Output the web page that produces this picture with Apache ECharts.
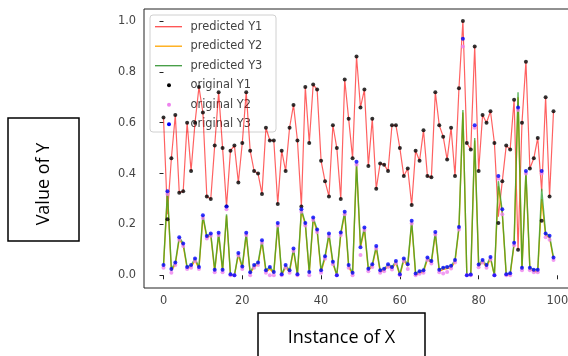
<!DOCTYPE html>
<html><head><meta charset="utf-8">
<script src="https://cdn.jsdelivr.net/npm/echarts@6/dist/echarts.min.js"></script>
<style>html,body{margin:0;padding:0;background:#fff}#c{width:568px;height:356px}</style>
</head><body><div id="c"></div>
<script>
// ---- data (index on x = instance 0..99) ----
const origY1 = [0.62,0.22,0.46,0.63,0.325,0.33,0.60,0.41,0.60,0.74,
  0.64,0.31,0.30,0.51,0.72,0.50,0.27,0.49,0.51,0.365,
  0.52,0.72,0.49,0.41,0.40,0.32,0.58,0.53,0.53,0.28,
  0.49,0.41,0.58,0.67,0.53,0.27,0.74,0.52,0.75,0.73,
  0.45,0.37,0.31,0.59,0.50,0.30,0.77,0.615,0.46,0.86,
  0.66,0.73,0.43,0.615,0.34,0.44,0.435,0.41,0.59,0.59,
  0.50,0.39,0.42,0.276,0.49,0.45,0.57,0.39,0.385,0.72,
  0.59,0.545,0.455,0.58,0.39,0.735,1.0,0.52,0.495,0.90,
  0.41,0.63,0.60,0.645,0.52,0.206,0.37,0.51,0.495,0.69,
  0.10,0.60,0.84,0.42,0.46,0.54,0.214,0.70,0.31,0.645];
const predY1 = [0.62,0.24,0.46,0.63,0.325,0.33,0.60,0.41,0.60,0.74,
  0.64,0.31,0.30,0.51,0.72,0.50,0.27,0.49,0.51,0.365,
  0.52,0.72,0.49,0.41,0.40,0.32,0.58,0.53,0.53,0.28,
  0.49,0.41,0.58,0.67,0.53,0.27,0.74,0.52,0.75,0.73,
  0.45,0.37,0.31,0.59,0.50,0.30,0.77,0.615,0.46,0.86,
  0.66,0.73,0.43,0.615,0.34,0.44,0.435,0.41,0.59,0.59,
  0.50,0.39,0.42,0.276,0.49,0.45,0.57,0.39,0.385,0.72,
  0.59,0.545,0.455,0.58,0.39,0.735,1.0,0.52,0.495,0.90,
  0.41,0.63,0.60,0.645,0.52,0.23,0.37,0.51,0.495,0.69,
  0.10,0.60,0.84,0.42,0.46,0.54,0.33,0.70,0.31,0.645];
const origY3 = [0.04,0.33,0.025,0.05,0.15,0.125,0.033,0.04,0.066,0.033,
  0.236,0.154,0.164,0.022,0.167,0.022,0.27,0.004,0.0,0.088,
  0.035,0.167,0.012,0.04,0.05,0.138,0.02,0.033,0.013,0.206,
  0.004,0.04,0.02,0.105,0.004,0.26,0.206,0.013,0.227,0.18,
  0.02,0.075,0.164,0.053,0.0,0.168,0.25,0.04,0.01,0.446,
  0.11,0.188,0.026,0.043,0.115,0.02,0.026,0.043,0.033,0.056,
  0.004,0.066,0.043,0.214,0.007,0.016,0.02,0.07,0.056,0.17,
  0.022,0.03,0.033,0.037,0.06,0.19,0.93,0.0,0.003,0.59,
  0.042,0.06,0.04,0.072,0.0,0.39,0.26,0.004,0.008,0.128,
  0.66,0.03,0.41,0.03,0.022,0.022,0.41,0.164,0.155,0.07];
const predY3 = [0.04,0.33,0.025,0.05,0.15,0.125,0.033,0.04,0.066,0.033,
  0.236,0.154,0.164,0.022,0.167,0.022,0.24,0.004,0.0,0.088,
  0.035,0.167,0.012,0.04,0.05,0.138,0.02,0.033,0.013,0.206,
  0.004,0.04,0.02,0.105,0.004,0.26,0.206,0.013,0.227,0.18,
  0.02,0.075,0.164,0.053,0.0,0.168,0.25,0.04,0.01,0.44,
  0.118,0.188,0.026,0.043,0.115,0.02,0.026,0.043,0.033,0.056,
  0.004,0.066,0.043,0.214,0.007,0.016,0.02,0.07,0.056,0.17,
  0.022,0.03,0.033,0.037,0.06,0.19,0.65,0.0,0.003,0.54,
  0.042,0.06,0.04,0.072,0.0,0.37,0.25,0.004,0.008,0.128,
  0.72,0.03,0.41,0.03,0.022,0.022,0.34,0.164,0.155,0.07];
const origY2 = [0.03,0.32,0.01,0.04,0.14,0.115,0.025,0.03,0.055,0.025,
  0.225,0.145,0.155,0.012,0.158,0.012,0.26,0.0,0.0,0.078,
  0.025,0.158,0.0,0.03,0.04,0.128,0.01,0.0,0.0,0.196,
  0.0,0.03,0.01,0.095,0.0,0.25,0.196,0.0,0.217,0.17,
  0.01,0.065,0.154,0.043,0.0,0.158,0.24,0.03,0.0,0.436,
  0.08,0.178,0.016,0.033,0.105,0.01,0.016,0.033,0.023,0.046,
  0.0,0.056,0.025,0.204,0.0,0.006,0.01,0.06,0.046,0.16,
  0.012,0.007,0.013,0.027,0.05,0.18,0.90,0.0,0.0,0.58,
  0.032,0.05,0.03,0.062,0.0,0.38,0.24,0.0,0.0,0.118,
  0.65,0.02,0.40,0.02,0.012,0.012,0.40,0.15,0.14,0.06];
const predY2 = [0.035,0.32,0.018,0.043,0.143,0.118,0.027,0.033,0.058,0.027,
  0.228,0.147,0.157,0.015,0.16,0.015,0.235,0.0,0.0,0.08,
  0.028,0.16,0.006,0.033,0.043,0.13,0.013,0.025,0.008,0.2,
  0.0,0.033,0.013,0.098,0.0,0.252,0.2,0.007,0.22,0.173,
  0.013,0.068,0.157,0.046,0.0,0.16,0.243,0.033,0.004,0.433,
  0.11,0.18,0.019,0.036,0.108,0.013,0.019,0.036,0.026,0.049,
  0.0,0.059,0.036,0.207,0.0,0.009,0.013,0.063,0.049,0.163,
  0.015,0.023,0.026,0.03,0.053,0.183,0.64,0.0,0.0,0.53,
  0.035,0.053,0.033,0.065,0.0,0.35,0.24,0.0,0.002,0.12,
  0.70,0.023,0.40,0.023,0.015,0.015,0.30,0.157,0.148,0.063];
const xTickValues = [0,20,40,60,80,100];
const yTickValues = [0.0,0.2,0.4,0.6,0.8,1.0];
const legendNames = ['predicted Y1','predicted Y2','predicted Y3','original Y1','original Y2','original Y3'];
const xLabel = 'Instance of X';
const yLabel = 'Value of Y';

const pairs = arr => arr.map((v,i)=>[i,v]);
const chart = echarts.init(document.getElementById('c'), null, {renderer:'canvas'});
const tickFont = {fontFamily:'DejaVu Sans', fontSize:11.4, color:'#444'};
const lineStyleC = {color:'#222', width:1};

const legX = 150, legY = 15, rowH = 19.5;
const legendEls = [{type:'rect', shape:{x:legX, y:legY, width:126, height:117, r:3},
  style:{fill:'rgba(255,255,255,0.82)', stroke:'#d0d0d0', lineWidth:1}}];
const legColors = ['rgba(255,0,0,0.7)','#ffa500','#3f9a3f','#000000','#ee82ee','#0000ff'];
legendNames.forEach((n,k)=>{
  const cy = 26.7 + rowH*k;
  if (k < 3) legendEls.push({type:'line', shape:{x1:155,y1:cy,x2:182,y2:cy}, style:{stroke:legColors[k], lineWidth:1.3}});
  else legendEls.push({type:'circle', shape:{cx:169, cy:cy, r:2}, style:{fill:legColors[k]}});
  legendEls.push({type:'text', x:190.5, y:cy, style:{text:n, fontFamily:'DejaVu Sans', fontSize:11.4, fill:'#444', verticalAlign:'middle', align:'left'}});
});

chart.setOption({
  animation:false,
  backgroundColor:'#fff',
  grid:{left:144, top:9, right:-5, bottom:68, show:true, borderColor:'#222', borderWidth:1, backgroundColor:'#fff', outerBoundsMode:'none', containLabel:false},
  xAxis:{type:'value', min:-4.95, max:103.95,
    axisLine:{show:false}, splitLine:{show:false},
    axisTick:{show:true, length:4, lineStyle:lineStyleC, customValues:xTickValues},
    axisLabel:Object.assign({margin:8, customValues:xTickValues, formatter:v=>String(v)}, tickFont)},
  yAxis:{type:'value', min:-0.05, max:1.047,
    axisLine:{show:false}, splitLine:{show:false},
    axisTick:{show:true, length:4, lineStyle:lineStyleC, customValues:yTickValues},
    axisLabel:Object.assign({margin:8, customValues:yTickValues, formatter:v=>v.toFixed(1)}, tickFont)},
  series:[
    {name:legendNames[0], type:'line', data:pairs(predY1), showSymbol:false, lineStyle:{color:'rgba(255,0,0,0.62)', width:1.2}, z:2},
    {name:legendNames[1], type:'line', data:pairs(predY2), showSymbol:false, lineStyle:{color:'#ffa500', width:1.4}, z:2},
    {name:legendNames[2], type:'line', data:pairs(predY3), showSymbol:false, lineStyle:{color:'rgba(44,160,44,0.75)', width:1.4}, z:2},
    {name:legendNames[3], type:'scatter', data:pairs(origY1), symbolSize:4, itemStyle:{color:'#000'}, z:3},
    {name:legendNames[4], type:'scatter', data:pairs(origY2), symbolSize:4, itemStyle:{color:'#ee82ee'}, z:3},
    {name:legendNames[5], type:'scatter', data:pairs(origY3), symbolSize:4, itemStyle:{color:'#0000ff'}, z:3}
  ],
  graphic:[
    {type:'group', z:100, children:legendEls},
    {type:'rect', shape:{x:8, y:118, width:71, height:123}, style:{fill:'#fff', stroke:'#000', lineWidth:1.5}, z:100},
    {type:'text', x:44, y:184, rotation:Math.PI/2, style:{text:yLabel, fontFamily:'Open Sans', fontSize:18, fill:'#000', align:'center', verticalAlign:'middle'}, z:101},
    {type:'rect', shape:{x:258, y:313, width:167, height:60}, style:{fill:'#fff', stroke:'#000', lineWidth:1.5}, z:100},
    {type:'text', x:341.5, y:338, style:{text:xLabel, fontFamily:'Open Sans', fontSize:18, fill:'#000', align:'center', verticalAlign:'middle'}, z:101}
  ]
});
</script></body></html>
